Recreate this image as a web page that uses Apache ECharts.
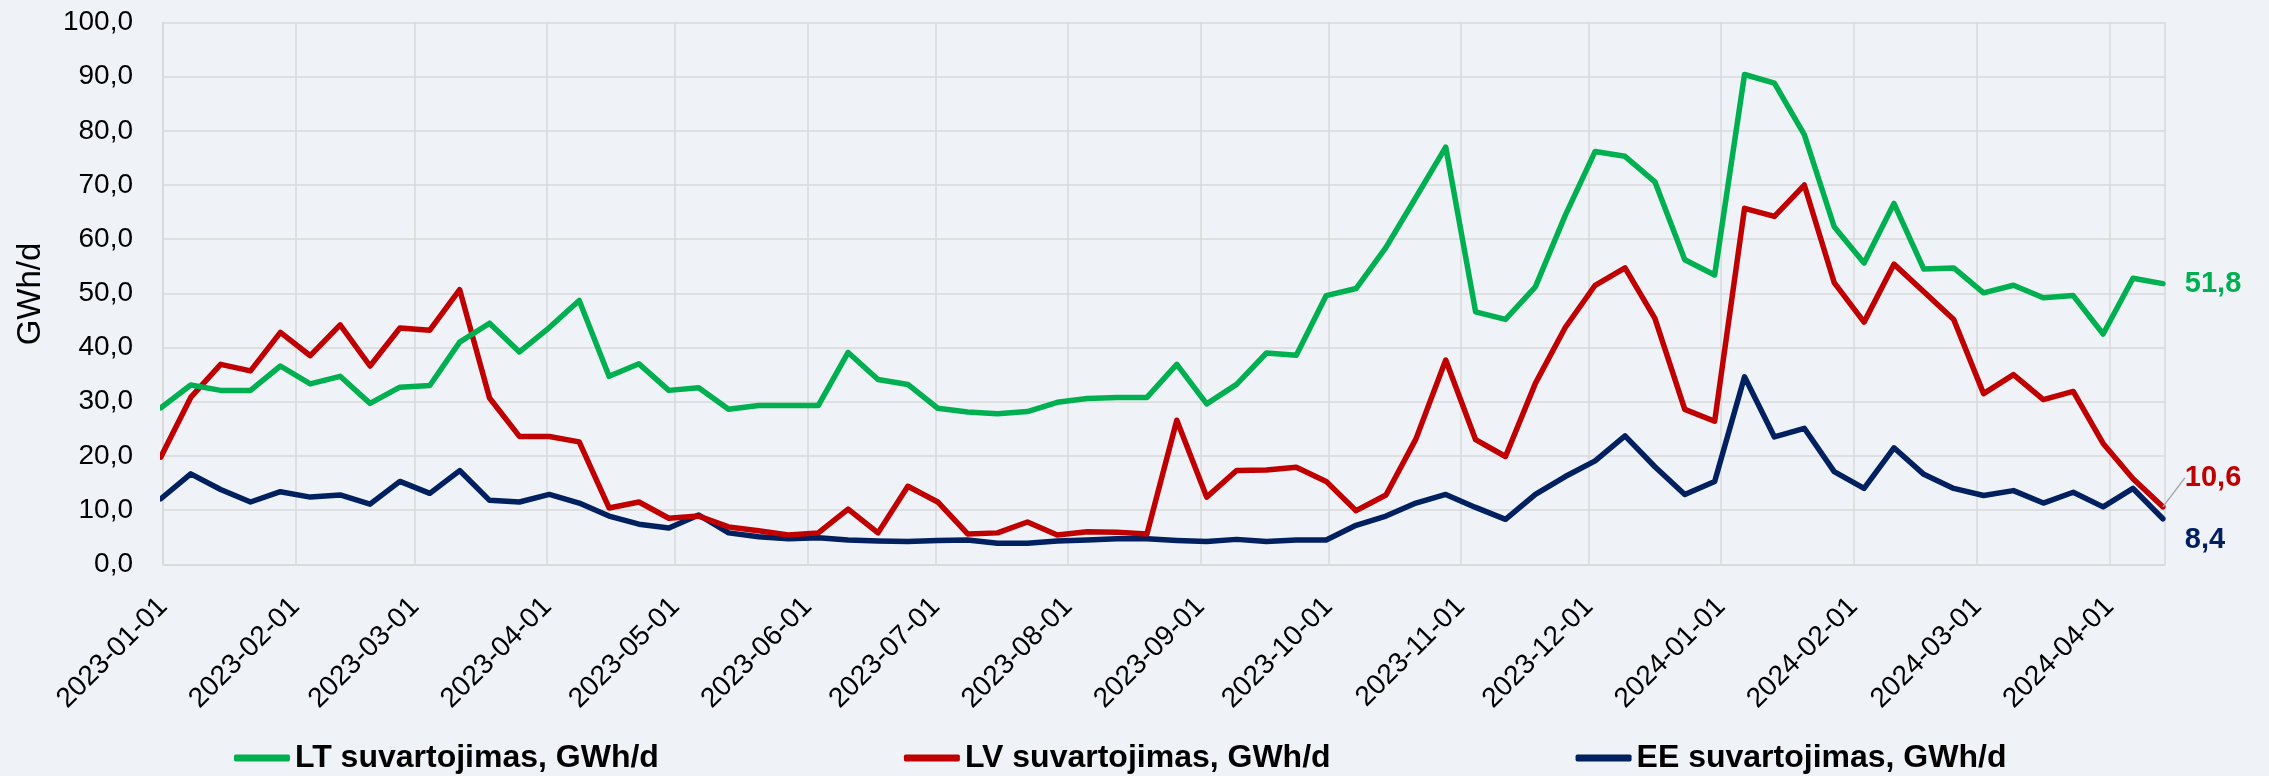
<!DOCTYPE html>
<html>
<head>
<meta charset="utf-8">
<script src="https://cdn.jsdelivr.net/npm/echarts@6/dist/echarts.min.js"></script>
<style>
html,body{margin:0;padding:0;background:#eff3f7;}
#chart{width:2269px;height:776px;}
</style>
</head>
<body>
<div id="chart"></div>
<script>
const dates = ['2022-12-31','2023-01-07','2023-01-14','2023-01-21','2023-01-28','2023-02-04','2023-02-11','2023-02-18','2023-02-25','2023-03-04','2023-03-11','2023-03-18','2023-03-25','2023-04-01','2023-04-08','2023-04-15','2023-04-22','2023-04-29','2023-05-06','2023-05-13','2023-05-20','2023-05-27','2023-06-03','2023-06-10','2023-06-17','2023-06-24','2023-07-01','2023-07-08','2023-07-15','2023-07-22','2023-07-29','2023-08-05','2023-08-12','2023-08-19','2023-08-26','2023-09-02','2023-09-09','2023-09-16','2023-09-23','2023-09-30','2023-10-07','2023-10-14','2023-10-21','2023-10-28','2023-11-04','2023-11-11','2023-11-18','2023-11-25','2023-12-02','2023-12-09','2023-12-16','2023-12-23','2023-12-30','2024-01-06','2024-01-13','2024-01-20','2024-01-27','2024-02-03','2024-02-10','2024-02-17','2024-02-24','2024-03-02','2024-03-09','2024-03-16','2024-03-23','2024-03-30','2024-04-06','2024-04-13'];

const ltValues = [28.9,33.1,32.1,32.1,36.6,33.3,34.7,29.7,32.7,33.0,41.0,44.5,39.2,43.7,48.7,34.7,37.0,32.1,32.6,28.6,29.3,29.3,29.3,39.1,34.1,33.2,28.8,28.1,27.8,28.2,29.9,30.6,30.8,30.8,36.9,29.6,33.2,39.0,38.6,49.6,50.9,58.5,67.7,77.0,46.6,45.2,51.2,64.4,76.2,75.3,70.6,56.2,53.4,90.4,88.8,79.3,62.3,55.6,66.6,54.5,54.7,50.1,51.5,49.2,49.6,42.5,52.8,51.8];

const lvValues = [19.8,30.8,36.9,35.7,42.8,38.5,44.2,36.6,43.6,43.2,50.7,30.7,23.6,23.6,22.6,10.4,11.5,8.5,8.9,6.9,6.2,5.4,5.8,10.2,5.8,14.4,11.5,5.6,5.8,7.8,5.4,6.0,5.9,5.6,26.6,12.4,17.3,17.4,17.9,15.3,9.9,12.8,23.1,37.7,23.0,19.9,33.4,43.7,51.5,54.7,45.4,28.6,26.4,65.7,64.2,70.0,52.0,44.7,55.4,50.3,45.2,31.5,35.0,30.4,31.9,22.3,15.8,10.6];

const eeValues = [12.1,16.7,13.8,11.5,13.4,12.4,12.8,11.1,15.3,13.1,17.3,11.8,11.5,12.9,11.3,8.9,7.4,6.7,9.1,5.8,5.1,4.7,4.9,4.5,4.3,4.2,4.4,4.5,3.9,3.9,4.3,4.5,4.7,4.7,4.4,4.2,4.6,4.2,4.5,4.5,7.2,8.9,11.3,12.9,10.5,8.3,12.9,16.2,19.1,23.7,18.0,12.9,15.3,34.6,23.5,25.1,17.1,14.0,21.5,16.6,14.0,12.7,13.6,11.3,13.3,10.6,14.0,8.4];

const seriesNames = ['LT suvartojimas, GWh/d','LV suvartojimas, GWh/d','EE suvartojimas, GWh/d'];
const seriesColors = ['#00b050','#c00000','#002060'];
const yTicks = {min: 0, max: 100, interval: 10};
const yTitle = 'GWh/d';
const axisStart = '2023-01-01';
const axisEnd = '2024-04-14';

const FONT = "'Liberation Sans', Arial, sans-serif";
const fmt = v => Number(v).toFixed(1).replace('.', ',');

function buildData(values) {
  return values.map((v, i) => {
    const x = dates[i] + ' 12:00';   // Excel date axis: point in middle of its day
    if (i === values.length - 1) {
      return {value: [x, v], label: {show: true}};
    }
    return [x, v];
  });
}

const labelDy = [0, -29, 21];

const chart = echarts.init(document.getElementById('chart'), null, {renderer: 'canvas'});
chart.setOption({
  backgroundColor: '#eff3f7',
  animation: false,
  textStyle: {fontFamily: FONT},
  grid: {left: 163, right: 104, top: 22.5, bottom: 211.7, containLabel: false},
  graphic: [{
    type: 'text',
    x: 31, y: 294,
    rotation: Math.PI / 2,
    style: {text: yTitle, fontFamily: FONT, fontSize: 33, fill: '#000', align: 'center', verticalAlign: 'middle'}
  }],
  legend: {
    left: 229, top: 737,
    itemGap: 245,
    itemWidth: 56, itemHeight: 7,
    icon: 'roundRect',
    textStyle: {fontFamily: FONT, fontSize: 32, fontWeight: 'bold', color: '#000'},
    data: seriesNames
  },
  xAxis: {
    type: 'time',
    min: axisStart, max: axisEnd,
    minInterval: 28 * 86400000,
    maxInterval: 31 * 86400000,
    axisLine: {show: true, lineStyle: {color: '#d9d9d9', width: 1.5}},
    axisTick: {show: false},
    splitLine: {show: true, lineStyle: {color: '#d9d9d9', width: 1.5}},
    axisLabel: {
      rotate: 45, margin: 38,
      fontFamily: FONT, fontSize: 28, color: '#000',
      formatter: '{yyyy}-{MM}-{dd}',
      showMinLabel: true, showMaxLabel: false,
      hideOverlap: false
    }
  },
  yAxis: {
    type: 'value',
    min: yTicks.min, max: yTicks.max, interval: yTicks.interval,
    axisLine: {show: true, lineStyle: {color: '#d9d9d9', width: 1.5}},
    axisTick: {show: false},
    splitLine: {show: true, lineStyle: {color: '#d9d9d9', width: 1.5}},
    axisLabel: {margin: 30, fontFamily: FONT, fontSize: 28, color: '#000', formatter: fmt}
  },
  series: [ltValues, lvValues, eeValues].map((vals, k) => ({
    name: seriesNames[k],
    type: 'line',
    data: buildData(vals),
    showSymbol: true,
    showAllSymbol: true,
    symbol: 'circle',
    symbolSize: 0,
    color: seriesColors[k],
    lineStyle: {color: seriesColors[k], width: 5.5, cap: 'round', join: 'round'},
    clip: true,
    z: 5 - k,
    label: {
      show: false,
      position: 'right', distance: 22,
      fontFamily: FONT, fontSize: 29, fontWeight: 'bold',
      color: seriesColors[k],
      formatter: p => fmt(p.value[1])
    },
    labelLayout: {dy: labelDy[k]},
    labelLine: k === 1 ? {show: true, length2: 10, lineStyle: {color: '#a6a6a6', width: 1.5}} : {show: false}
  }))
});
</script>
</body>
</html>
